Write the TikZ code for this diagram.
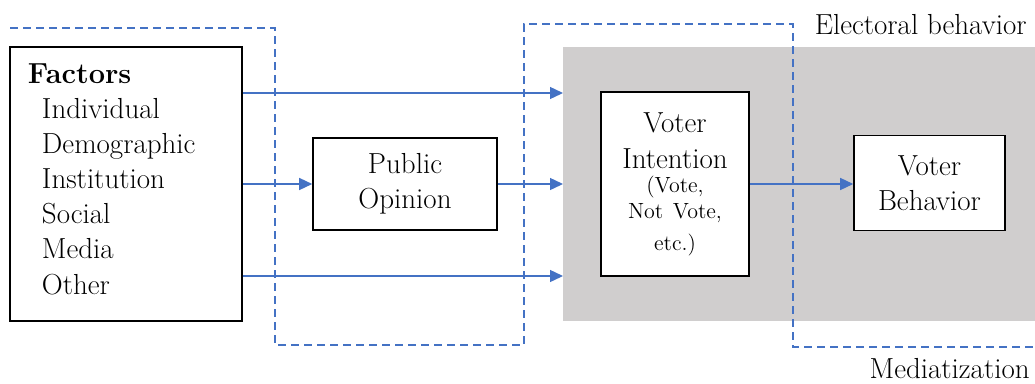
\documentclass[tikz,border=0pt]{standalone}
\usetikzlibrary{arrows.meta}
\definecolor{lineblue}{HTML}{4472C4}
\definecolor{boxgray}{HTML}{D0CECE}

\begin{document}
\begin{tikzpicture}[x=0.2mm, y=-0.2mm,
  font=\fontsize{16.5}{20}\selectfont,
  box/.style={draw, line width=0.9pt, fill=white, align=center},
  arr/.style={draw=lineblue, line width=0.8pt, -{Triangle[length=2.6mm,width=2.4mm]}}]
\useasboundingbox (0,0) rectangle (1035,383);
\node[fill=boxgray, minimum width=94.4mm, minimum height=54.8mm, inner sep=0pt, outer sep=0pt] (elect) at (799,184){};
\draw[lineblue, line width=0.7pt, dash pattern=on 1.6mm off 1mm] (10,28) -| (275,345) -| (524,24) -| (793,347) -- (1035,347);
\node[box, minimum width=46.4mm, minimum height=54.8mm, text width=39.2mm, inner xsep=3.6mm, align=left] (factors) at (126,184){\textbf{Factors}\\ \hspace*{2.8mm}Individual\\ \hspace*{2.8mm}Demographic\\ \hspace*{2.8mm}Institution\\ \hspace*{2.8mm}Social\\ \hspace*{2.8mm}Media\\ \hspace*{2.8mm}Other\strut};
\node[box, minimum width=36.8mm, minimum height=18.4mm, text width=30mm] (pubop) at (405,184){Public\\Opinion};
\node[box, minimum width=29.6mm, minimum height=36.8mm, text width=26mm, font=\fontsize{16.5}{20.5}\selectfont] (intent) at (675,184){Voter\\Intention\\[-3pt]{\fontsize{12.5}{17}\selectfont (Vote,\\[-2.5pt]Not Vote,\\[-2.5pt]etc.)}};
\node[box, minimum width=30.2mm, minimum height=19mm, text width=26mm] (behav) at (929.5,183){Voter\\Behavior};
\node[anchor=base east, inner sep=0pt] (elecl) at (1027,35){Electoral behavior};
\node[anchor=base east, inner sep=0pt] (medl) at (1030,378){Mediatization};
\draw[arr] ([yshift=18.2mm]factors.east) -- ([yshift=18.2mm]elect.west);
\draw[arr] (factors.east) -- (pubop.west);
\draw[arr] (pubop.east) -- (elect.west);
\draw[arr] ([yshift=-18.4mm]factors.east) -- ([yshift=-18.4mm]elect.west);
\draw[arr] (intent.east) -- (intent.east -| behav.west);
\end{tikzpicture}
\end{document}
